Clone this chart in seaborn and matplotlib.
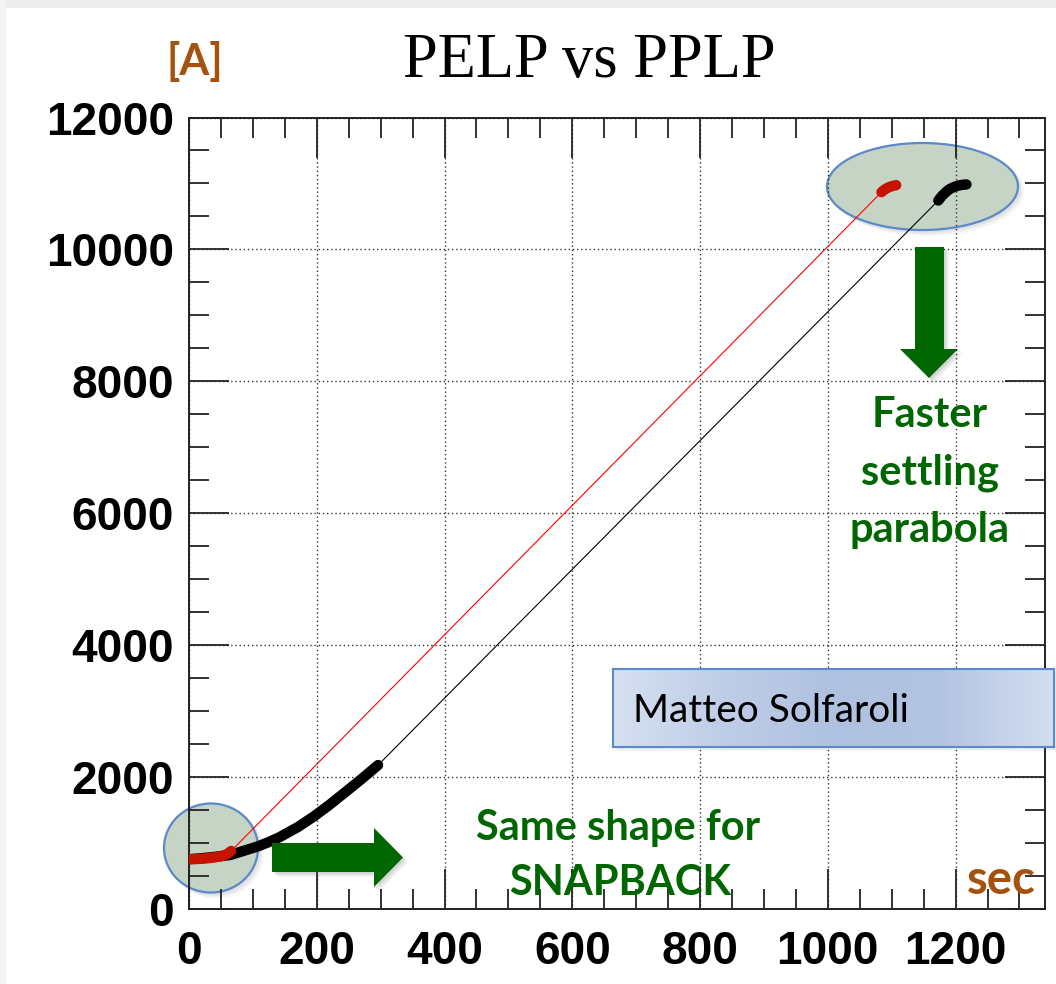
import numpy as np
import pandas as pd
import matplotlib
matplotlib.use("Agg")
import matplotlib.pyplot as plt
import matplotlib.transforms as mtransforms
from matplotlib.patches import Ellipse, Polygon, Rectangle
from matplotlib.colors import LinearSegmentedColormap
from matplotlib.ticker import MultipleLocator, FixedLocator
import seaborn as sns

# ---------------- data ----------------
red_snap_t = [0, 10, 20, 30, 38, 45, 52, 58, 62, 66]
red_snap_i = [755, 757, 762, 770, 780, 790, 805, 825, 850, 880]
red_ramp_t = [66, 1084]
red_ramp_i = [880, 10868]
red_settle_t = [1084, 1088, 1092, 1096, 1100, 1104, 1107]
red_settle_i = [10868, 10900, 10925, 10945, 10958, 10968, 10974]

black_snap_t = [0, 20, 40, 64, 85, 108, 125, 142, 170, 195, 220, 247, 270, 296]
black_snap_i = [755, 770, 790, 818, 880, 950, 1015, 1090, 1240, 1400, 1580, 1790, 1970, 2182]
black_ramp_t = [296, 1173]
black_ramp_i = [2182, 10742]
black_settle_t = [1173, 1179, 1185, 1190, 1195, 1200, 1205, 1211, 1217]
black_settle_i = [10742, 10815, 10870, 10910, 10935, 10955, 10970, 10980, 10985]

x_ticks = [0, 200, 400, 600, 800, 1000, 1200]
y_ticks = [0, 2000, 4000, 6000, 8000, 10000, 12000]

title = "PELP vs PPLP"
y_unit = "[A]"
x_unit = "sec"
note_top = ["Faster", "settling", "parabola"]
note_bottom = ["Same shape for", "SNAPBACK"]
author = "Matteo Solfaroli"

# ---------------- style ----------------
sns.set_style("ticks")
plt.rcParams["font.family"] = ["Liberation Sans", "DejaVu Sans"]

W, H, DPI = 1056, 984, 100
fig = plt.figure(figsize=(W / DPI, H / DPI), dpi=DPI)
fig.patch.set_facecolor("white")
pix = mtransforms.Affine2D().scale(1 / DPI, -1 / DPI).translate(0, H / DPI) + fig.dpi_scale_trans

# slide border
fig.patches.append(Rectangle((0, 0), W, 8, transform=pix, facecolor="#ededed", edgecolor="none", zorder=0))
fig.patches.append(Rectangle((0, 0), 6, H, transform=pix, facecolor="#f3f3f3", edgecolor="none", zorder=0))

L, R, T, B = 189, 1045, 117.5, 909
ax = fig.add_axes([L / W, 1 - B / H, (R - L) / W, (B - T) / H])
ax.set_facecolor("white")
ax.set_axisbelow(True)


def seg(t, i):
    return pd.DataFrame({"t": t, "i": i})


green_c = "#006600"
# thin ramps
sns.lineplot(data=seg(black_ramp_t, black_ramp_i), x="t", y="i", ax=ax, color="#000000",
             lw=0.8, sort=False, estimator=None, zorder=2)
sns.lineplot(data=seg(red_ramp_t, red_ramp_i), x="t", y="i", ax=ax, color="#ff0000",
             lw=0.8, sort=False, estimator=None, zorder=2)
# thick (dense markers) segments
for t, i, c in [(black_snap_t, black_snap_i, "#000000"),
                (black_settle_t, black_settle_i, "#000000"),
                (red_snap_t, red_snap_i, "#c81200"),
                (red_settle_t, red_settle_i, "#c81200")]:
    sns.lineplot(data=seg(t, i), x="t", y="i", ax=ax, color=c, lw=7.5, sort=False,
                 estimator=None, zorder=3, solid_capstyle="round", solid_joinstyle="round")

ax.set_xlim(0, 1340)
ax.set_ylim(0, 12000)
ax.xaxis.set_major_locator(FixedLocator(x_ticks))
ax.yaxis.set_major_locator(FixedLocator(y_ticks))
ax.xaxis.set_minor_locator(MultipleLocator(50))
ax.yaxis.set_minor_locator(MultipleLocator(500))
ax.set_xticklabels([str(v) for v in x_ticks])
ax.set_yticklabels([str(v) for v in y_ticks])
ax.set_xlabel("")
ax.set_ylabel("")
ax.tick_params(which="both", direction="in", top=True, right=True, color="#222222", width=1.3,
               labelcolor="black")
ax.tick_params(which="major", length=29)
ax.tick_params(which="minor", length=14.5)
ax.tick_params(axis="x", which="major", pad=15, labelsize=33)
ax.tick_params(axis="y", which="major", pad=11, labelsize=33)
for lab in ax.get_xticklabels() + ax.get_yticklabels():
    lab.set_fontweight("bold")
ax.grid(True, which="major", color="#333333", linestyle=(0, (1, 2)), lw=1.0)
for s in ax.spines.values():
    s.set_color("#222222")
    s.set_linewidth(1.4)

# ellipses (behind grid / data)
for (cx, cy, ew, eh) in [(211, 848, 94, 89), (922.5, 186.5, 191, 87)]:
    for k, a in [(5, 0.06), (3.5, 0.08), (2, 0.10)]:
        ax.add_artist(Ellipse((cx + k, cy + k), ew + 2, eh + 2, transform=pix, facecolor="#808080",
                              edgecolor="none", alpha=a, zorder=0.2, clip_on=False))
    ax.add_artist(Ellipse((cx, cy), ew, eh, transform=pix, facecolor="#c6d4c5",
                          edgecolor="#5b8ac8", lw=1.6, zorder=0.3, clip_on=False))

# arrows
arrow_right = [(272, 843), (374, 843), (374, 828), (403, 857.5), (374, 887), (374, 872), (272, 872)]
arrow_down = [(915, 247), (944, 247), (944, 349), (958, 349), (929, 378), (900, 349), (915, 349)]
for poly in (arrow_right, arrow_down):
    for k, a in [(5, 0.07), (3.5, 0.09), (2, 0.12)]:
        ax.add_artist(Polygon([(x + k, y + k) for x, y in poly], closed=True, transform=pix,
                              facecolor="#606060", edgecolor="none", alpha=a, zorder=4, clip_on=False))
    ax.add_artist(Polygon(poly, closed=True, transform=pix, facecolor=green_c, edgecolor="none",
                          zorder=5, clip_on=False))

# texts
fig.text(589, 77, title, transform=pix, ha="center", va="baseline", fontsize=45,
         family=["Liberation Serif", "DejaVu Serif"], color="black")
brown = "#a5520f"
fig.text(195, 75, y_unit, transform=pix, ha="center", va="baseline", fontsize=31,
         family=["Lato", "DejaVu Sans"], fontweight="bold", color=brown)
fig.text(1001, 894, x_unit, transform=pix, ha="center", va="baseline", fontsize=34,
         family=["Lato", "DejaVu Sans"], fontweight="bold", color=brown, zorder=6)
for line, yb in zip(note_top, [427, 485, 542]):
    fig.text(930, yb, line, transform=pix, ha="center", va="baseline", fontsize=30,
             family=["Lato", "DejaVu Sans"], fontweight="bold", color=green_c, zorder=6)
for line, (xc, yb) in zip(note_bottom, [(618, 840), (620, 895)]):
    fig.text(xc, yb, line, transform=pix, ha="center", va="baseline", fontsize=30,
             family=["Lato", "DejaVu Sans"], fontweight="bold", color=green_c, zorder=6)

# author box with gradient
bx0, by0, bx1, by1 = 613, 669, 1054, 747
for k, a in [(4, 0.06), (2.5, 0.08)]:
    fig.patches.append(Rectangle((bx0 + k, by0 + k), bx1 - bx0, by1 - by0, transform=pix,
                                 facecolor="#707070", edgecolor="none", alpha=a, zorder=4))
bax = fig.add_axes([bx0 / W, 1 - by1 / H, (bx1 - bx0) / W, (by1 - by0) / H], zorder=5)
cmap = LinearSegmentedColormap.from_list("box", ["#d6e0f1", "#bfcde7", "#afc1e0", "#b3c4e2", "#d4def0"])
grad = np.linspace(0, 1, 256)[None, :]
bax.imshow(grad, cmap=cmap, aspect="auto", extent=[0, 1, 0, 1])
bax.set_xticks([])
bax.set_yticks([])
for s in bax.spines.values():
    s.set_color("#5b8ac8")
    s.set_linewidth(1.5)
fig.text(633, 722.5, author, transform=pix, ha="left", va="baseline", fontsize=28,
         family=["Lato", "DejaVu Sans"], color="black", zorder=7)

fig.savefig("out.png", dpi=DPI)
